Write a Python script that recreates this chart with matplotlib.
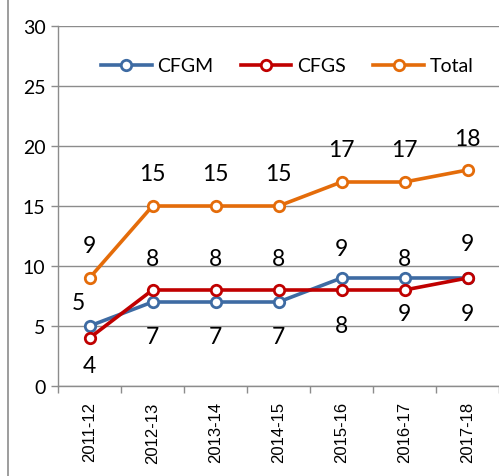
import matplotlib
matplotlib.use("Agg")
import matplotlib.pyplot as plt
import numpy as np

# data
years = ["2011-12", "2012-13", "2013-14", "2014-15", "2015-16", "2016-17", "2017-18"]
cfgm = [5, 7, 7, 7, 9, 9, 9]
cfgs = [4, 8, 8, 8, 8, 8, 9]
total = [9, 15, 15, 15, 17, 17, 18]

# where each data label sits relative to its point (pixels): +up, -down
cfgm_dy = [23, -35, -35, -35, 29, -36, -36]
cfgs_dy = [-28, 31, 31, 31, -36, 31, 34]
total_dy = [32, 32, 32, 32, 32, 32, 31]

blue = "#3E6BA3"
red = "#C00000"
orange = "#E46C0A"
grey = "#8C8C8C"

lab_font = "Lato"
x = np.arange(len(years))

fig = plt.figure(figsize=(4.99, 4.77), dpi=100)
ax = fig.add_axes([58 / 499, 90 / 477, 441 / 499, 360 / 477])

style = dict(lw=2.6, marker="o", ms=7.5, mew=2.0, mfc="white", solid_joinstyle="round")
ax.plot(x, cfgm, color=blue, label="CFGM", zorder=3, **style)
ax.plot(x, cfgs, color=red, label="CFGS", zorder=4, **style)
ax.plot(x, total, color=orange, label="Total", zorder=3, **style)

for vals, dys in [(cfgm, cfgm_dy), (cfgs, cfgs_dy), (total, total_dy)]:
    for i, (v, dy) in enumerate(zip(vals, dys)):
        dx = -11 if (vals is cfgm and i == 0) else 0
        ax.annotate(str(v), (x[i], v), xytext=(dx, dy), textcoords="offset pixels",
                    ha="center", va="center", fontsize=16.5, family=lab_font, color="black")

ax.set_xlim(-0.5, len(years) - 0.5)
ax.set_ylim(0, 30)
ax.set_yticks(range(0, 31, 5))
ax.set_yticklabels([str(v) for v in range(0, 31, 5)], family=lab_font, fontsize=14)
ax.yaxis.grid(True, color=grey, lw=1)
ax.set_axisbelow(True)
ax.tick_params(axis="y", length=5, color=grey, width=1, pad=4)

ax.set_xticks(x)
ax.set_xticklabels(years, rotation=90, family="Liberation Sans", fontsize=12)
ax.set_xticks(np.arange(-0.5, len(years)), minor=True)
ax.tick_params(axis="x", which="major", length=0, pad=11)
ax.tick_params(axis="x", which="minor", length=5, color=grey, width=1)

for s in ["top", "right"]:
    ax.spines[s].set_visible(False)
for s in ["left", "bottom"]:
    ax.spines[s].set_color(grey)
    ax.spines[s].set_linewidth(1)

leg = ax.legend(loc="center", bbox_to_anchor=(0.52, 0.889), ncol=3, frameon=False,
                handlelength=2.6, columnspacing=1.4, handletextpad=0.3,
                prop={"family": lab_font, "size": 14})

# chart-area border, only the left side is visible in the crop
fig.add_artist(plt.Line2D([8 / 499, 8 / 499], [0, 1], color=grey, lw=1.2,
                          transform=fig.transFigure))

fig.savefig("out.png", dpi=100)
